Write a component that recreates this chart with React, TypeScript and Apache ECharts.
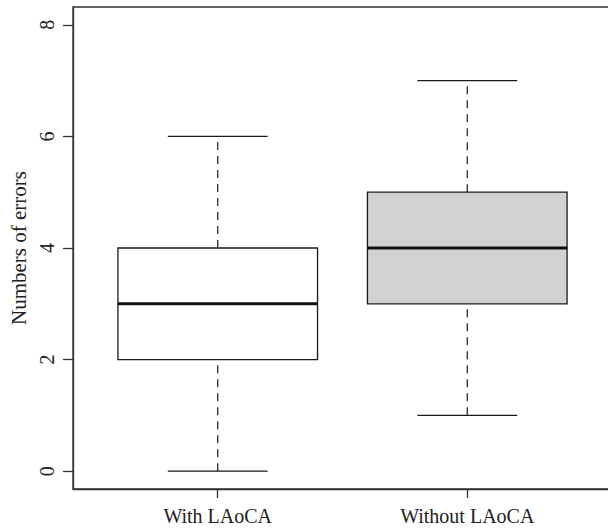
import React, { useEffect, useRef } from "react";
import * as echarts from "echarts";

const categories = ["With LAoCA", "Without LAoCA"];
const positions = [1, 2];
const mins = [0, 1];
const q1s = [2, 3];
const medians = [3, 4];
const q3s = [4, 5];
const maxs = [6, 7];
const fills = ["#ffffff", "#d1d2d4"];
const yTicks = [0, 2, 4, 6, 8];

const FONT = "'Liberation Serif', 'DejaVu Serif', serif";

export default function App() {
  const ref = useRef<HTMLDivElement>(null);
  useEffect(() => {
    if (!ref.current) return;
    const chart = echarts.init(ref.current, undefined, { renderer: "svg" });
    const data = positions.map((p, i) => [p, mins[i], q1s[i], medians[i], q3s[i], maxs[i], i]);
    const boxHalf = 0.4;
    const capHalf = 0.2;
    chart.setOption({
      animation: false,
      backgroundColor: "#ffffff",
      grid: {
        left: 72,
        top: 7,
        width: 540,
        height: 482,
        show: true,
        borderColor: "#333",
        borderWidth: 1.3,
        backgroundColor: "transparent",
      },
      xAxis: {
        type: "value",
        min: 0.42,
        max: 2.58,
        splitLine: { show: false },
        axisLine: { show: true, onZero: false, lineStyle: { color: "#333", width: 1.3 } },
        axisTick: { show: true, length: 9, customValues: positions, lineStyle: { color: "#333", width: 1.3 } },
        axisLabel: {
          customValues: positions,
          margin: 17,
          color: "#222",
          fontFamily: FONT,
          fontSize: 20,
          formatter: (v: number) => {
            const idx = positions.indexOf(Math.round(v));
            return idx >= 0 ? categories[idx] : "";
          },
        },
      },
      yAxis: {
        type: "value",
        min: -0.32,
        max: 8.32,
        name: "Numbers of errors",
        nameLocation: "middle",
        nameGap: 44,
        nameTextStyle: { color: "#222", fontFamily: FONT, fontSize: 21 },
        splitLine: { show: false },
        axisLine: { show: true, lineStyle: { color: "#333", width: 1.3 } },
        axisTick: { show: true, length: 10, customValues: yTicks, lineStyle: { color: "#333", width: 1.3 } },
        axisLabel: {
          customValues: yTicks,
          rotate: 90,
          margin: 16,
          color: "#222",
          fontFamily: FONT,
          fontSize: 20,
        },
      },
      series: [
        {
          type: "custom",
          data,
          encode: { x: 0, y: [1, 2, 3, 4, 5] },
          renderItem: (params: any, api: any) => {
            const x = api.value(0);
            const mn = api.value(1);
            const lq = api.value(2);
            const md = api.value(3);
            const uq = api.value(4);
            const mx = api.value(5);
            const idx = api.value(6);
            const c = (xx: number, yy: number) => api.coord([xx, yy]);
            const pMin = c(x, mn);
            const pLq = c(x, lq);
            const pMd = c(x, md);
            const pUq = c(x, uq);
            const pMx = c(x, mx);
            const left = c(x - boxHalf, lq)[0];
            const right = c(x + boxHalf, lq)[0];
            const capL = c(x - capHalf, mn)[0];
            const capR = c(x + capHalf, mn)[0];
            const stroke = "#1a1a1a";
            return {
              type: "group",
              children: [
                {
                  type: "line",
                  shape: { x1: pUq[0], y1: pUq[1], x2: pMx[0], y2: pMx[1] },
                  style: { stroke, lineWidth: 1.2, lineDash: [8, 6] },
                },
                {
                  type: "line",
                  shape: { x1: pMin[0], y1: pMin[1], x2: pLq[0], y2: pLq[1] },
                  style: { stroke, lineWidth: 1.2, lineDash: [8, 6] },
                },
                {
                  type: "line",
                  shape: { x1: capL, y1: pMx[1], x2: capR, y2: pMx[1] },
                  style: { stroke, lineWidth: 1.3 },
                },
                {
                  type: "line",
                  shape: { x1: capL, y1: pMin[1], x2: capR, y2: pMin[1] },
                  style: { stroke, lineWidth: 1.3 },
                },
                {
                  type: "rect",
                  shape: { x: left, y: pUq[1], width: right - left, height: pLq[1] - pUq[1] },
                  style: { fill: fills[idx], stroke, lineWidth: 1.3 },
                },
                {
                  type: "line",
                  shape: { x1: left, y1: pMd[1], x2: right, y2: pMd[1] },
                  style: { stroke: "#111", lineWidth: 3 },
                },
              ],
            };
          },
        },
      ],
    });
    return () => chart.dispose();
  }, []);
  return (
    <div
      style={{
        position: "fixed",
        left: 0,
        top: 0,
        width: 608,
        height: 530,
        overflow: "hidden",
        background: "#fff",
      }}
    >
      <div ref={ref} style={{ width: 620, height: 530 }} />
    </div>
  );
}
